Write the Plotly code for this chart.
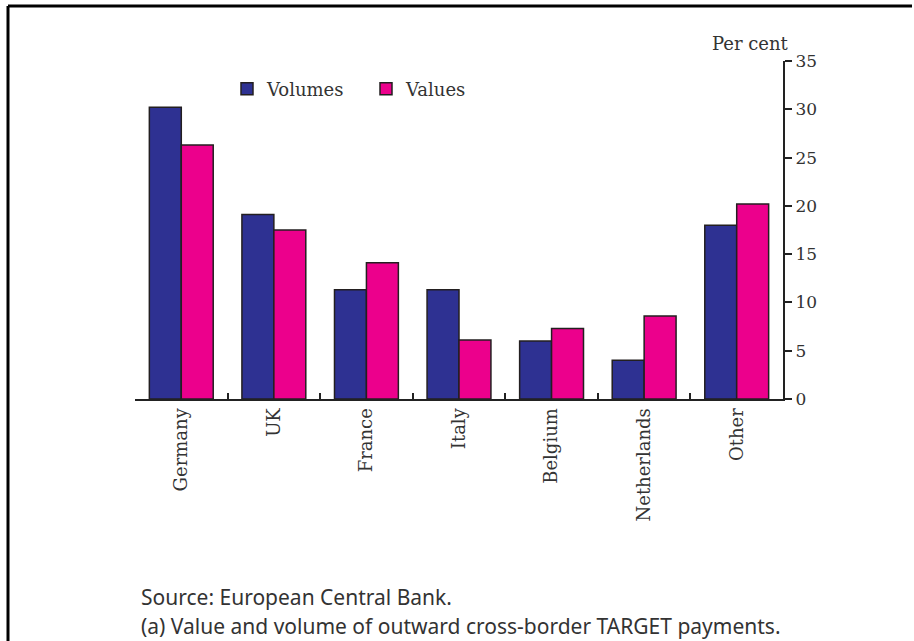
import plotly.graph_objects as go

categories = ["Germany", "UK", "France", "Italy", "Belgium", "Netherlands", "Other"]
volumes = [30.2, 19.1, 11.3, 11.3, 6.0, 4.0, 18.0]
values = [26.3, 17.5, 14.1, 6.1, 7.3, 8.6, 20.2]
y_ticks = [0, 5, 10, 15, 20, 25, 30, 35]

BLUE = "#2E3192"
PINK = "#EC008C"
EDGE = "#231F20"
SERIF = "DejaVu Serif"
SANS = "Noto Sans"

fig = go.Figure()
fig.add_trace(go.Bar(name="Volumes", x=categories, y=volumes,
                     marker=dict(color=BLUE, line=dict(color=EDGE, width=1.5))))
fig.add_trace(go.Bar(name="Values", x=categories, y=values,
                     marker=dict(color=PINK, line=dict(color=EDGE, width=1.5))))

W, H = 914, 641
ml, mr, mt, mb = 135, 131, 61, 242
pw, ph = W - ml - mr, H - mt - mb


def px_x(v):
    return (v - ml) / pw


def px_y(v):
    return 1 - (v - mt) / ph


fig.update_layout(
    width=W, height=H,
    margin=dict(l=ml, r=mr, t=mt, b=mb, pad=0),
    paper_bgcolor="white", plot_bgcolor="white",
    barmode="group", bargap=0.31, bargroupgap=0,
    font=dict(family=SERIF, color="#333333", size=17),
    showlegend=True,
    legend=dict(orientation="h", x=px_x(227), xanchor="left",
                y=px_y(89), yanchor="middle",
                font=dict(family=SERIF, size=18, color="#333333"),
                bgcolor="rgba(0,0,0,0)", itemwidth=30, traceorder="normal",
                entrywidth=94, entrywidthmode="pixels"),
    xaxis=dict(type="category", range=[-0.5, 6.5], showline=True, linecolor="#222222",
               linewidth=2, ticks="inside", ticklen=6, tickcolor="#222222", tickwidth=1.5,
               tickson="boundaries", tickangle=-90, showgrid=False, zeroline=False,
               tickfont=dict(family=SERIF, size=18, color="#333333")),
    yaxis=dict(side="right", range=[0, 35], tickvals=y_ticks, showline=True,
               linecolor="#222222", linewidth=2, ticks="outside", ticklen=7,
               tickcolor="#222222", tickwidth=1.5, showgrid=False, zeroline=False,
               tickfont=dict(family=SERIF, size=17, color="#333333")),
)

fig.add_annotation(text="Per cent", xref="paper", yref="paper",
                   x=px_x(791), y=px_y(56),
                   xanchor="right", yanchor="bottom", showarrow=False,
                   font=dict(family=SERIF, size=18, color="#333333"))

fig.add_annotation(text="Source: European Central Bank.", xref="paper", yref="paper",
                   x=px_x(140), y=px_y(597), borderpad=0,
                   xanchor="left", yanchor="middle", showarrow=False,
                   font=dict(family=SANS, size=21, color="#333333"))
fig.add_annotation(text="(a) Value and volume of outward cross-border TARGET payments.",
                   xref="paper", yref="paper",
                   x=px_x(140), y=px_y(626), borderpad=0,
                   xanchor="left", yanchor="middle", showarrow=False,
                   font=dict(family=SANS, size=21, color="#333333"))

# frame lines (top and left) of the surrounding box
fig.add_shape(type="line", xref="paper", yref="paper", x0=px_x(8), x1=px_x(912),
              y0=px_y(6), y1=px_y(6), line=dict(color="black", width=3))
fig.add_shape(type="line", xref="paper", yref="paper", x0=px_x(8), x1=px_x(8),
              y0=px_y(6), y1=px_y(645), line=dict(color="black", width=3))

fig.write_html("out.html", config={"displayModeBar": False},
               post_script="document.body.style.margin='0';document.body.style.overflow='hidden';")
